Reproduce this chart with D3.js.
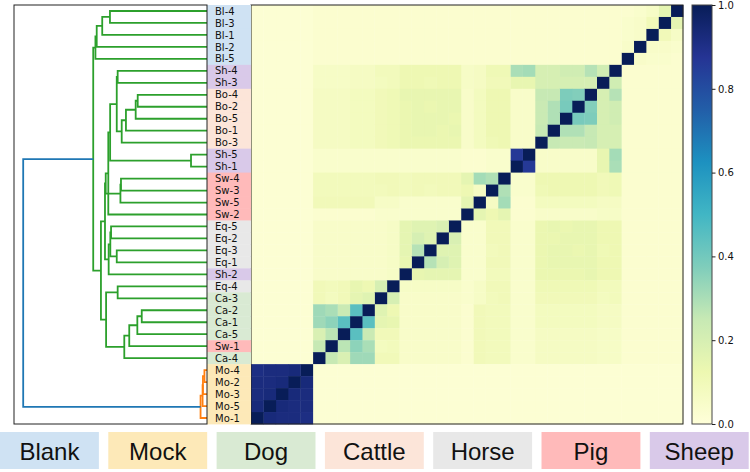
<!DOCTYPE html>
<html><head><meta charset="utf-8">
<script src="https://cdn.jsdelivr.net/npm/d3@7"></script>
<style>body{margin:0;background:#fff;} svg{display:block;}</style>
</head><body>
<svg id="chart" width="750" height="472"></svg>
<script>
// ---------- data ----------
const leaves = ["Bl-4","Bl-3","Bl-1","Bl-2","Bl-5","Sh-4","Sh-3","Bo-4","Bo-2","Bo-5","Bo-1","Bo-3",
  "Sh-5","Sh-1","Sw-4","Sw-3","Sw-5","Sw-2","Eq-5","Eq-2","Eq-3","Eq-1","Sh-2","Eq-4","Ca-3",
  "Ca-2","Ca-1","Ca-5","Sw-1","Ca-4","Mo-4","Mo-2","Mo-3","Mo-5","Mo-1"];
const groups = ["Blank","Mock","Dog","Cattle","Horse","Pig","Sheep"];
const groupColors = ["#cfe2f3","#fde9b8","#d9ead3","#fce5d9","#e8e8e8","#ffbaba","#d9c9e9"];
const prefixGroup = {Bl:"Blank", Mo:"Mock", Ca:"Dog", Bo:"Cattle", Eq:"Horse", Sw:"Pig", Sh:"Sheep"};

// similarity (percent), lower triangle in leaf order
const simLower = [
 [100],
 [15,100],
 [6,10,100],
 [4,5,5,100],
 [3,4,4,5,100],
 [3,3,3,3,3,100],
 [3,3,3,3,3,22,100],
 [3,3,3,3,3,28,20,100],
 [3,3,3,3,3,22,20,37,100],
 [3,3,3,3,3,22,20,38,39,100],
 [3,3,3,3,3,20,20,25,29,29,100],
 [3,3,3,3,3,20,20,25,24,24,25,100],
 [3,3,3,3,3,31,14,5,5,5,5,5,100],
 [3,3,3,3,3,30,14,5,5,5,5,5,86,100],
 [3,3,3,3,3,11,10,12,12,12,12,12,4,4,100],
 [3,3,3,3,3,11,10,12,12,12,12,11,4,4,29,100],
 [3,3,3,3,3,7,7,8,8,8,8,8,3,3,31,7,100],
 [3,3,3,3,3,6,6,5,5,5,5,5,3,3,15,12,15,100],
 [3,3,3,3,3,12,12,14,14,13,14,13,4,4,10,10,4,4,100],
 [3,3,3,3,3,12,12,14,14,14,13,13,4,4,10,10,4,4,19,100],
 [3,3,3,3,3,12,11,14,13,14,14,13,4,4,10,9,4,4,17,17,100],
 [3,3,3,3,3,12,12,14,14,14,14,13,4,4,10,10,4,4,17,20,28,100],
 [3,3,3,3,3,12,12,14,13,13,13,13,4,4,9,9,4,4,15,15,15,14,100],
 [3,3,3,3,3,9,9,11,11,11,11,11,4,4,10,10,6,4,6,6,6,6,6,100],
 [3,3,3,3,3,9,8,10,10,10,10,10,4,4,10,9,6,4,5,5,5,5,5,20,100],
 [3,3,3,3,3,7,7,8,8,8,8,8,4,4,9,9,10,3,5,5,5,5,5,12,17,100],
 [3,3,3,3,3,7,7,8,8,8,8,8,4,4,9,9,10,3,5,5,5,5,5,14,15,45,100],
 [3,3,3,3,3,6,6,7,7,7,7,7,4,4,9,9,10,3,5,5,5,5,5,10,10,24,45,100],
 [3,3,3,3,3,6,6,7,7,7,7,7,4,4,9,9,10,3,5,5,5,5,5,9,8,30,35,27,100],
 [3,3,3,3,3,6,6,7,7,7,7,7,4,4,9,9,10,3,5,5,5,5,5,10,10,32,32,19,25,100],
 [2,2,2,2,2,2,2,2,2,2,2,2,2,2,2,2,2,2,2,2,2,2,2,2,2,2,2,2,2,2,100],
 [2,2,2,2,2,2,2,2,2,2,2,2,2,2,2,2,2,2,2,2,2,2,2,2,2,2,2,2,2,2,93,100],
 [2,2,2,2,2,2,2,2,2,2,2,2,2,2,2,2,2,2,2,2,2,2,2,2,2,2,2,2,2,2,92,93,100],
 [2,2,2,2,2,2,2,2,2,2,2,2,2,2,2,2,2,2,2,2,2,2,2,2,2,2,2,2,2,2,92,92,93,100],
 [2,2,2,2,2,2,2,2,2,2,2,2,2,2,2,2,2,2,2,2,2,2,2,2,2,2,2,2,2,2,91,92,92,93,100]
];

// dendrogram merges: [id, childA, childB, distance]
const merges = [
 ["B1","Bl-4","Bl-3",0.528],
 ["B2","B1","Bl-1",0.570],
 ["B3","B2","Bl-2",0.600],
 ["B4","B3","Bl-5",0.607],
 ["S1","Sh-4","Sh-3",0.486],
 ["O1","Bo-4","Bo-2",0.377],
 ["O2","O1","Bo-5",0.388],
 ["O3","O2","Bo-1",0.441],
 ["O4","O3","Bo-3",0.464],
 ["S2","S1","O4",0.491],
 ["S3","Sh-5","Sh-1",0.087],
 ["S4","S2","S3",0.527],
 ["S5","S4","Sw-2",0.537],
 ["W1","Sw-4","Sw-3",0.468],
 ["W2","W1","Sw-5",0.471],
 ["S6","S5","W2",0.551],
 ["E1","Eq-5","Eq-2",0.522],
 ["E2","Eq-3","Eq-1",0.491],
 ["E3","E1","E2",0.526],
 ["E4","E3","Sh-2",0.535],
 ["S7","S6","E4",0.555],
 ["C1","Eq-4","Ca-3",0.486],
 ["C2","Ca-2","Ca-1",0.355],
 ["C3","C2","Ca-5",0.379],
 ["C4","C3","Sw-1",0.423],
 ["C5","C4","Ca-4",0.450],
 ["C6","C1","C5",0.549],
 ["R1","S7","C6",0.577],
 ["G","B4","R1",0.619],
 ["M1","Mo-4","Mo-2",0.014],
 ["M2","M1","Mo-3",0.022],
 ["M3","M2","Mo-5",0.024],
 ["M4","M3","Mo-1",0.035],
 ["ROOT","G","M4",1.0]
];
const colorThreshold = 0.7;
const clusterPalette = ["#2ca02c","#ff7f0e"];
const aboveColor = "#1f77b4";
const colorbarTicks = [0.0,0.2,0.4,0.6,0.8,1.0];
const cmapStops = ["#ffffd9","#edf8b1","#c7e9b4","#7fcdbb","#41b6c4","#1d91c0","#225ea8","#253494","#081d58"];

// ---------- layout ----------
const svg = d3.select("#chart");
const plotTop = 5, plotBottom = 424;
const heatLeft = 251, heatRight = 683;
const dendLeft = 14, dendRight = 207;
const labelLeft = 207, labelRight = 251;

const y = d3.scaleBand().domain(leaves).range([plotTop, plotBottom]);
const x = d3.scaleBand().domain(leaves.slice().reverse()).range([heatLeft, heatRight]);
const cmap = d3.scaleLinear().domain(cmapStops.map((c,i)=>i/(cmapStops.length-1))).range(cmapStops).interpolate(d3.interpolateRgb).clamp(true);
const groupColor = d3.scaleOrdinal().domain(groups).range(groupColors);
const grp = name => prefixGroup[name.split("-")[0]];

// heatmap
const cells = [];
leaves.forEach((ri, i) => leaves.forEach((ck, k) => {
  const v = (i >= k ? simLower[i][k] : simLower[k][i]) / 100;
  cells.push({r: ri, c: ck, v});
}));
svg.append("g").selectAll("rect").data(cells).join("rect")
  .attr("x", d => x(d.c)).attr("y", d => y(d.r))
  .attr("width", x.bandwidth()+0.4).attr("height", y.bandwidth()+0.4)
  .attr("fill", d => cmap(d.v));
svg.append("rect").attr("x", heatLeft).attr("y", plotTop)
  .attr("width", heatRight-heatLeft).attr("height", plotBottom-plotTop)
  .attr("fill","none").attr("stroke","#222").attr("stroke-width",1);

// label column
const lab = svg.append("g");
lab.selectAll("rect").data(leaves).join("rect")
  .attr("x", labelLeft).attr("y", d => y(d)).attr("width", labelRight-labelLeft).attr("height", y.bandwidth()+0.4)
  .attr("fill", d => groupColor(grp(d)));
lab.selectAll("text").data(leaves).join("text")
  .attr("x", 215).attr("y", d => y(d)+y.bandwidth()/2).attr("dy","0.36em")
  .attr("font-family","DejaVu Sans, sans-serif").attr("font-size",10).attr("fill","#111")
  .text(d => d);

// dendrogram
const xd = d3.scaleLinear().domain([0, 1.05]).range([dendRight, dendLeft]);
const node = {};
leaves.forEach(l => node[l] = {y: y(l)+y.bandwidth()/2, d: 0, leaf: true});
merges.forEach(([id,a,b,d]) => {
  node[id] = {y: (node[a].y + node[b].y)/2, d, a, b};
});
let ci = 0;
function paint(id, col) {
  const n = node[id]; if (n.leaf) return;
  let c = col;
  if (!c && n.d < colorThreshold) { c = clusterPalette[ci++ % clusterPalette.length]; }
  n.color = c || aboveColor;
  paint(n.a, c); paint(n.b, c);
}
paint("ROOT", null);
const dg = svg.append("g").attr("fill","none").attr("stroke-width",1.8);
merges.forEach(([id,a,b,d]) => {
  const A = node[a], B = node[b];
  dg.append("path")
    .attr("d", `M${xd(A.d)},${A.y}H${xd(d)}V${B.y}H${xd(B.d)}`)
    .attr("stroke", node[id].color);
});
svg.append("rect").attr("x", dendLeft).attr("y", plotTop)
  .attr("width", dendRight-dendLeft).attr("height", plotBottom-plotTop)
  .attr("fill","none").attr("stroke","#222").attr("stroke-width",1);

// colorbar
const cbX = 692, cbW = 20;
const defs = svg.append("defs");
const grad = defs.append("linearGradient").attr("id","cb").attr("x1",0).attr("y1",1).attr("x2",0).attr("y2",0);
grad.selectAll("stop").data(cmapStops).join("stop")
  .attr("offset", (c,i) => i/(cmapStops.length-1)).attr("stop-color", c => c);
svg.append("rect").attr("x", cbX).attr("y", plotTop).attr("width", cbW).attr("height", plotBottom-plotTop)
  .attr("fill","url(#cb)").attr("stroke","#444").attr("stroke-width",1);
const cbScale = d3.scaleLinear().domain([0,1]).range([plotBottom, plotTop]);
const cbAxis = svg.append("g").attr("transform", `translate(${cbX+cbW},0)`)
  .call(d3.axisRight(cbScale).tickValues(colorbarTicks).tickFormat(d3.format(".1f")).tickSize(3.5).tickPadding(2.5));
cbAxis.select(".domain").remove();
cbAxis.selectAll("text").attr("font-family","DejaVu Sans, sans-serif").attr("font-size",10).attr("fill","#111");
cbAxis.selectAll("line").attr("stroke","#222");

// legend
const lx = d3.scaleBand().domain(groups).range([0, 748.7]).paddingInner(0.087);
const lg = svg.append("g");
lg.selectAll("rect").data(groups).join("rect")
  .attr("x", d => lx(d)).attr("y", 432).attr("width", lx.bandwidth()).attr("height", 37)
  .attr("fill", d => groupColor(d));
lg.selectAll("text").data(groups).join("text")
  .attr("x", d => lx(d)+lx.bandwidth()/2).attr("y", 459.5).attr("text-anchor","middle")
  .attr("font-family","Liberation Sans, Arial, sans-serif").attr("font-size",24).attr("fill","#111")
  .text(d => d);
</script>
</body></html>
